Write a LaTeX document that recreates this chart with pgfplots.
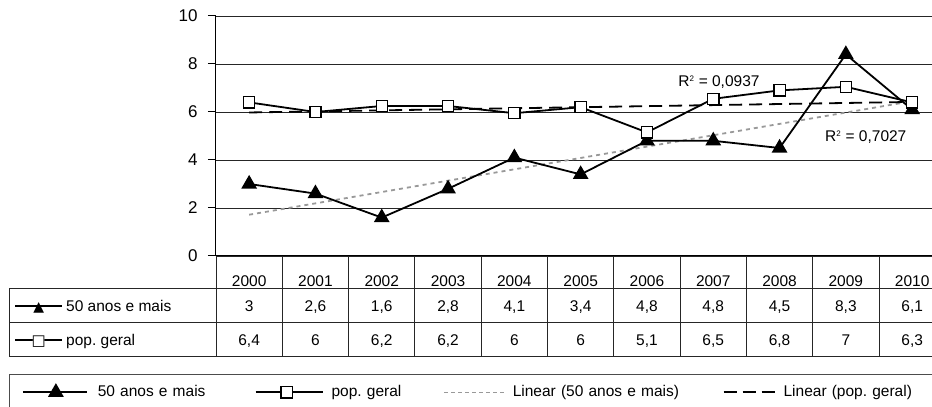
\documentclass[border=0pt]{standalone}
\usepackage{pgfplots}
\pgfplotsset{compat=1.18}
\usepackage{fontspec}
\setmainfont{Liberation Sans}
\newfontfamily\dejavu{DejaVu Sans}
\frenchspacing
\newcommand{\keytri}{\makebox[0pt][l]{\rule[4.3pt]{47pt}{1.6pt}}\makebox[47pt][c]{\dejavu\fontsize{14}{14}\selectfont ▲}}
\newcommand{\keysq}{\makebox[0pt][l]{\rule[4.3pt]{47pt}{1.6pt}}\makebox[47pt][c]{\dejavu\fontsize{15}{15}\selectfont\rlap{\textcolor{white}{■}}□}}
\pgfplotsset{
  trileg/.style={legend image code/.code={\draw[##1] (0pt,0pt) -- (64pt,0pt); \draw[##1] plot coordinates {(33pt,0pt)}; \path (74pt,0pt);}},
  sqleg/.style={legend image code/.code={\draw[##1] (0pt,0pt) -- (67pt,0pt); \draw[##1] plot coordinates {(31pt,0pt)}; \path (75pt,0pt);}},
  dotleg/.style={legend image code/.code={\draw[##1] (0pt,0pt) -- (62pt,0pt); \path (68pt,0pt);}},
  dashleg/.style={legend image code/.code={\draw[##1] (0pt,0pt) -- (51pt,0pt); \path (59pt,0pt);}},
}
\begin{document}
\fontsize{15.5}{18}\selectfont
\begin{tikzpicture}
\begin{axis}[
  at={(216pt,151pt)}, anchor=south west,
  scale only axis, width=729.3pt, height=240pt,
  xmin=-0.5, xmax=10.5, ymin=0, ymax=10,
  axis x line*=bottom, axis y line*=left,
  axis line style={black, line width=1pt, -},
  ytick={0,2,4,6,8,10}, ymajorgrids,
  grid style={black!85, line width=0.9pt},
  tick align=outside, major tick length=8pt,
  y tick style={black, line width=1pt},
  xtick={0,1,2,3,4,5,6,7,8,9,10},
  xticklabels={2000,2001,2002,2003,2004,2005,2006,2007,2008,2009,2010},
  x tick style={draw=none},
  /pgf/number format/assume math mode=true,
  xticklabel style={anchor=base, yshift=-22pt, font=\fontsize{15.5}{18}\selectfont},
  yticklabel style={anchor=east, xshift=-5pt, font=\fontsize{17}{20}\selectfont},
  clip=false,
  legend columns=4, legend cell align=left,
  legend style={at={(axis description cs:-0.26601,-0.56667)}, anchor=west,
    draw=none, fill=none, inner sep=0pt, outer sep=0pt, column sep=0pt,
    nodes={inner sep=0pt, align=left, font=\fontsize{15.5}{18}\selectfont},
    /tikz/column 2/.style={text width=157pt},
    /tikz/column 4/.style={text width=112pt},
    /tikz/column 6/.style={text width=210pt},
    /tikz/column 8/.style={text width=160pt}},
]
% trend lines
\addplot[forget plot, color=black!40, line width=1.8pt, dash pattern=on 4pt off 4pt]
  coordinates {(0,1.72) (10,6.45)};
\addplot[forget plot, color=black, line width=1.8pt, dash pattern=on 13pt off 7pt]
  coordinates {(0,5.98) (10,6.42)};
% data
\addplot[black, line width=1.8pt, mark=triangle*, mark size=7.3pt,
  mark options={solid, fill=black}, trileg]
  coordinates {(0,3) (1,2.6) (2,1.6) (3,2.8) (4,4.1) (5,3.4) (6,4.8) (7,4.8) (8,4.5) (9,8.4) (10,6.1)};
\addlegendentry{50 anos e mais}
\addplot[black, line width=1.8pt, mark=square*, mark size=5.6pt,
  mark options={solid, fill=white, draw=black, line width=1.3pt}, sqleg]
  coordinates {(0,6.4) (1,6.0) (2,6.25) (3,6.25) (4,5.95) (5,6.2) (6,5.15) (7,6.55) (8,6.9) (9,7.05) (10,6.4)};
\addlegendentry{pop. geral}
\addlegendimage{color=black!40, line width=1.2pt, dash pattern=on 4pt off 3pt, dotleg}
\addlegendentry{Linear (50 anos e mais)}
\addlegendimage{color=black, line width=1.8pt, dash pattern=on 13pt off 6pt, dashleg}
\addlegendentry{Linear (pop. geral)}
\node[anchor=west, inner sep=0pt] at (axis cs:6.47,7.25) {R\textsuperscript{\fontsize{8}{8}\selectfont 2} = 0,0937};
\node[anchor=west, inner sep=0pt] at (axis cs:8.685,4.96) {R\textsuperscript{\fontsize{8}{8}\selectfont 2} = 0,7027};
\end{axis}
% data table
\foreach \k in {0,...,11} {
  \draw[black!85, line width=1pt] ({(216+66.3*\k)*1pt},151pt) -- ({(216+66.3*\k)*1pt},50pt);
}
\draw[black!85, line width=1pt] (9pt,118pt) -- (950pt,118pt);
\draw[black!85, line width=1pt] (9pt,84pt) -- (950pt,84pt);
\draw[black!85, line width=1pt] (9pt,50pt) -- (950pt,50pt);
\draw[black!85, line width=1pt] (9pt,118pt) -- (9pt,50pt);
\node[anchor=base west, inner sep=0pt] at (15pt,95.7pt) {\keytri\hspace{4pt}50 anos e mais};
\node[anchor=base west, inner sep=0pt] at (15pt,61.7pt) {\keysq\hspace{4pt}pop. geral};
\foreach \v [count=\k from 0] in {3,{2,6},{1,6},{2,8},{4,1},{3,4},{4,8},{4,8},{4,5},{8,3},{6,1}} {
  \node[anchor=base, inner sep=0pt] at ({(216+66.3*(\k+0.5))*1pt},95.7pt) {\v};
}
\foreach \v [count=\k from 0] in {{6,4},6,{6,2},{6,2},6,6,{5,1},{6,5},{6,8},7,{6,3}} {
  \node[anchor=base, inner sep=0pt] at ({(216+66.3*(\k+0.5))*1pt},61.7pt) {\v};
}
% legend frame
\draw[black!70, line width=1pt] (9pt,-10pt) rectangle (950pt,32pt);
\pgfresetboundingbox
\useasboundingbox (0pt,0pt) rectangle (932pt,407pt);
\end{tikzpicture}
\end{document}
